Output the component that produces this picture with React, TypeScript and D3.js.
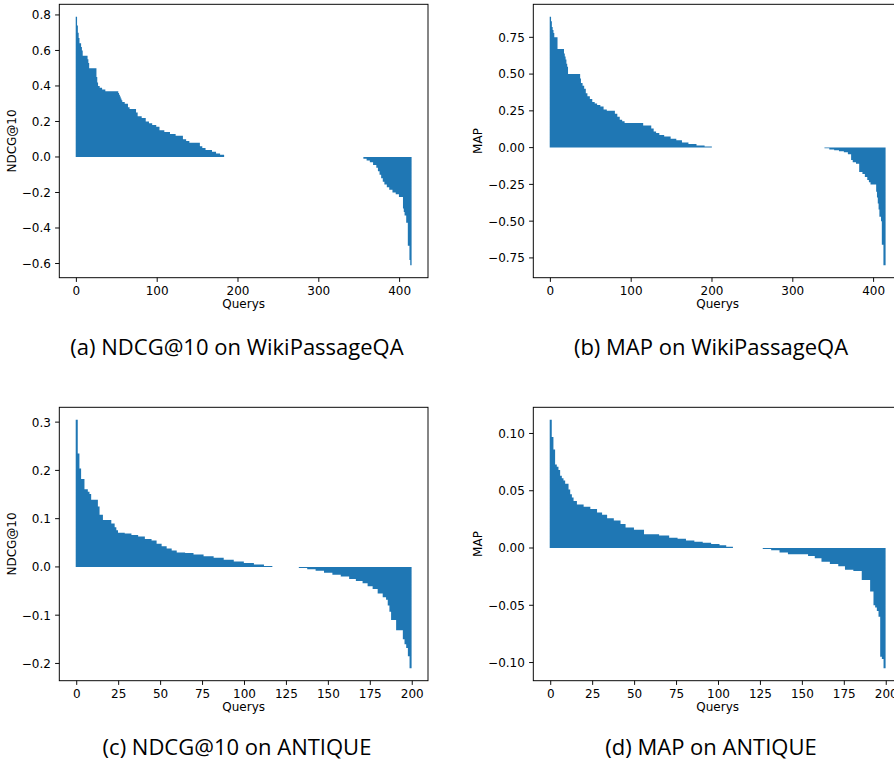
import React from 'react';
import * as d3 from 'd3';

type Run = [number, number]; // [value, number of consecutive queries with that value]

// (a) NDCG@10 on WikiPassageQA — sorted per-query differences
const ndcgWikiRuns: Run[] = [
  [0.79, 1], [0.74, 1], [0.70, 1], [0.67, 1], [0.64, 2], [0.62, 1], [0.60, 1], [0.57, 6], [0.55, 1], [0.53, 1],
  [0.50, 9], [0.45, 1], [0.42, 1], [0.40, 2], [0.39, 3], [0.38, 4], [0.37, 16], [0.36, 1], [0.35, 1], [0.34, 1],
  [0.33, 1], [0.32, 1], [0.31, 3], [0.30, 4], [0.28, 2], [0.27, 8], [0.25, 2], [0.23, 5], [0.22, 5], [0.20, 4],
  [0.19, 4], [0.18, 5], [0.17, 4], [0.15, 6], [0.14, 7], [0.13, 7], [0.12, 9], [0.10, 4], [0.09, 4], [0.08, 13],
  [0.06, 3], [0.05, 4], [0.04, 8], [0.03, 5], [0.02, 5], [0.013, 5],
  [0, 173],
  [-0.01, 4], [-0.02, 4], [-0.03, 4], [-0.045, 4], [-0.06, 2], [-0.08, 2], [-0.10, 2], [-0.12, 2], [-0.14, 2],
  [-0.155, 3], [-0.17, 3], [-0.185, 4], [-0.20, 4], [-0.21, 4], [-0.225, 5], [-0.29, 1], [-0.31, 1], [-0.33, 2],
  [-0.37, 2], [-0.50, 2], [-0.58, 1], [-0.61, 1],
];

// (b) MAP on WikiPassageQA
const mapWikiRuns: Run[] = [
  [0.89, 1], [0.86, 1], [0.82, 1], [0.80, 1], [0.78, 1], [0.75, 4], [0.67, 8], [0.64, 1], [0.62, 1], [0.60, 1],
  [0.57, 1], [0.55, 1], [0.50, 15], [0.47, 1], [0.44, 2], [0.42, 2], [0.40, 2], [0.37, 2], [0.35, 3], [0.33, 3],
  [0.31, 3], [0.30, 3], [0.29, 4], [0.28, 4], [0.26, 4], [0.25, 10], [0.23, 3], [0.21, 3], [0.19, 3], [0.18, 3],
  [0.167, 23], [0.15, 10], [0.13, 3], [0.11, 3], [0.10, 4], [0.085, 6], [0.075, 8], [0.06, 7], [0.05, 7],
  [0.035, 8], [0.025, 10], [0.015, 10], [0.007, 9],
  [0, 140],
  [-0.005, 6], [-0.012, 6], [-0.018, 6], [-0.024, 6], [-0.032, 5], [-0.045, 4], [-0.085, 2], [-0.10, 4],
  [-0.11, 4], [-0.165, 4], [-0.18, 3], [-0.20, 3], [-0.22, 2], [-0.235, 2], [-0.25, 7], [-0.30, 1], [-0.34, 1],
  [-0.38, 1], [-0.42, 1], [-0.47, 2], [-0.50, 1], [-0.66, 2], [-0.80, 2],
];

// (c) NDCG@10 on ANTIQUE
const ndcgAntiqueRuns: Run[] = [
  [0.305, 1], [0.235, 1], [0.204, 1], [0.182, 2], [0.161, 2], [0.156, 1], [0.151, 1], [0.139, 4], [0.125, 1],
  [0.108, 2], [0.097, 5], [0.09, 2], [0.082, 1], [0.076, 1], [0.071, 4], [0.069, 4], [0.066, 4], [0.063, 4],
  [0.058, 4], [0.055, 3], [0.048, 3], [0.043, 3], [0.038, 3], [0.034, 3], [0.030, 5], [0.029, 5], [0.026, 6],
  [0.022, 6], [0.019, 6], [0.015, 6], [0.011, 6], [0.008, 6], [0.005, 6], [0.002, 5],
  [0, 16],
  [-0.002, 5], [-0.005, 5], [-0.008, 5], [-0.012, 5], [-0.016, 5], [-0.020, 5], [-0.025, 4], [-0.029, 4],
  [-0.034, 3], [-0.040, 3], [-0.046, 3], [-0.055, 3], [-0.063, 2], [-0.068, 1], [-0.08, 1], [-0.093, 1],
  [-0.11, 3], [-0.131, 4], [-0.15, 1], [-0.16, 1], [-0.168, 1], [-0.185, 1], [-0.21, 1],
];

// (d) MAP on ANTIQUE
const mapAntiqueRuns: Run[] = [
  [0.112, 1], [0.097, 1], [0.086, 1], [0.073, 1], [0.071, 1], [0.068, 1], [0.063, 1], [0.061, 1], [0.059, 1],
  [0.056, 2], [0.051, 1], [0.047, 1], [0.044, 1], [0.041, 2], [0.038, 4], [0.036, 4], [0.034, 4], [0.031, 3],
  [0.029, 3], [0.026, 4], [0.024, 4], [0.021, 3], [0.018, 5], [0.016, 6], [0.012, 9], [0.011, 6], [0.009, 5],
  [0.008, 5], [0.0065, 5], [0.0055, 5], [0.0045, 5], [0.0035, 5], [0.0025, 4], [0.0012, 4],
  [0, 18],
  [-0.0008, 5], [-0.002, 5], [-0.004, 5], [-0.0055, 12], [-0.007, 4], [-0.009, 4], [-0.012, 5], [-0.014, 5],
  [-0.016, 4], [-0.019, 5], [-0.020, 5], [-0.028, 5], [-0.038, 2], [-0.050, 1], [-0.052, 1], [-0.055, 1],
  [-0.060, 1], [-0.095, 1], [-0.097, 1], [-0.105, 1],
];

const xTicksWiki = [0, 100, 200, 300, 400];
const xTicksAntique = [0, 25, 50, 75, 100, 125, 150, 175, 200];
const yTicksNdcgWiki = [-0.6, -0.4, -0.2, 0, 0.2, 0.4, 0.6, 0.8];
const yTicksMapWiki = [-0.75, -0.5, -0.25, 0, 0.25, 0.5, 0.75];
const yTicksNdcgAntique = [-0.2, -0.1, 0, 0.1, 0.2, 0.3];
const yTicksMapAntique = [-0.1, -0.05, 0, 0.05, 0.1];

const xAxisLabel = 'Querys';
const captionTexts = [
  '(a) NDCG@10 on WikiPassageQA',
  '(b) MAP on WikiPassageQA',
  '(c) NDCG@10 on ANTIQUE',
  '(d) MAP on ANTIQUE',
];

const BAR_COLOR = '#1f77b4';
const TICK_FONT = '"DejaVu Sans", sans-serif';
const CAPTION_FONT = '"Open Sans", sans-serif';

type PanelProps = {
  runs: Run[];
  left: number;
  top: number;
  width: number;
  height: number;
  xTicks: number[];
  yTicks: number[];
  yFormat: string;
  yLabel: string;
  yLabelX: number;
  caption: string;
  captionX: number;
  captionY: number;
};

function Panel(p: PanelProps) {
  const values: number[] = p.runs.flatMap(([v, c]) => Array.from({ length: c }, () => v));
  const n = values.length;
  const barW = 0.8;
  const xSpan = n - 1 + barW;
  const x = d3
    .scaleLinear()
    .domain([-barW / 2 - 0.05 * xSpan, n - 1 + barW / 2 + 0.05 * xSpan])
    .range([p.left, p.left + p.width]);
  const vmin = Math.min(0, d3.min(values) as number);
  const vmax = Math.max(0, d3.max(values) as number);
  const ySpan = vmax - vmin;
  const y = d3
    .scaleLinear()
    .domain([vmin - 0.05 * ySpan, vmax + 0.05 * ySpan])
    .range([p.top + p.height, p.top]);
  const fmt = d3.format(p.yFormat);
  const bottom = p.top + p.height;
  const tickLen = 4.2;

  // all bars in one path so that the rasterised union is solid (as in the raster reference)
  const pad = 0.35;
  const path = d3.path();
  values.forEach((v, i) => {
    if (v === 0) return;
    const x0 = x(i - barW / 2) - pad;
    const x1 = x(i + barW / 2) + pad;
    const yTop = y(Math.max(0, v));
    const h = Math.abs(y(v) - y(0));
    path.rect(x0, yTop, x1 - x0, h);
  });

  return (
    <g>
      <path d={path.toString()} fill={BAR_COLOR} />
      <rect x={p.left} y={p.top} width={p.width} height={p.height} fill="none" stroke="#000" strokeWidth={0.96} />
      {p.xTicks.map((t) => (
        <g key={'x' + t}>
          <line x1={x(t)} x2={x(t)} y1={bottom} y2={bottom + tickLen} stroke="#000" strokeWidth={0.96} />
          <text x={x(t)} y={bottom + 17} textAnchor="middle" fontFamily={TICK_FONT} fontSize={12} fill="#000">
            {t}
          </text>
        </g>
      ))}
      {p.yTicks.map((t) => (
        <g key={'y' + t}>
          <line x1={p.left - tickLen} x2={p.left} y1={y(t)} y2={y(t)} stroke="#000" strokeWidth={0.96} />
          <text x={p.left - 8.4} y={y(t) + 4.4} textAnchor="end" fontFamily={TICK_FONT} fontSize={12} fill="#000">
            {fmt(t)}
          </text>
        </g>
      ))}
      <text
        x={x((x.domain()[0] + x.domain()[1]) / 2)}
        y={bottom + 30.3}
        textAnchor="middle"
        fontFamily={TICK_FONT}
        fontSize={12}
        fill="#000"
      >
        {xAxisLabel}
      </text>
      <text
        transform={`translate(${p.yLabelX},${p.top + p.height / 2}) rotate(-90)`}
        textAnchor="middle"
        fontFamily={TICK_FONT}
        fontSize={12}
        fill="#000"
      >
        {p.yLabel}
      </text>
      <text x={p.captionX} y={p.captionY} textAnchor="middle" fontFamily={CAPTION_FONT} fontSize={22} fill="#000">
        {p.caption}
      </text>
    </g>
  );
}

export default function App() {
  const W = 894;
  const H = 765;
  const axW = 368.7;
  const axH = 273.4;
  const leftL = 59.3;
  const leftR = 533.3;
  const topT = 4.3;
  const topB = 407.3;
  return (
    <div style={{ position: 'absolute', left: 0, top: 0 }}>
      <svg width={W} height={H} viewBox={`0 0 ${W} ${H}`} style={{ display: 'block', background: '#fff' }}>
        <rect x={0} y={0} width={W} height={H} fill="#fff" />
        <Panel
          runs={ndcgWikiRuns}
          left={leftL}
          top={topT}
          width={axW}
          height={axH}
          xTicks={xTicksWiki}
          yTicks={yTicksNdcgWiki}
          yFormat=".1f"
          yLabel="NDCG@10"
          yLabelX={leftL - 43.3}
          caption={captionTexts[0]}
          captionX={237}
          captionY={354.5}
        />
        <Panel
          runs={mapWikiRuns}
          left={leftR}
          top={topT}
          width={axW}
          height={axH}
          xTicks={xTicksWiki}
          yTicks={yTicksMapWiki}
          yFormat=".2f"
          yLabel="MAP"
          yLabelX={leftR - 51.3}
          caption={captionTexts[1]}
          captionX={711}
          captionY={354.5}
        />
        <Panel
          runs={ndcgAntiqueRuns}
          left={leftL}
          top={topB}
          width={axW}
          height={axH}
          xTicks={xTicksAntique}
          yTicks={yTicksNdcgAntique}
          yFormat=".1f"
          yLabel="NDCG@10"
          yLabelX={leftL - 43.3}
          caption={captionTexts[2]}
          captionX={237}
          captionY={755}
        />
        <Panel
          runs={mapAntiqueRuns}
          left={leftR}
          top={topB}
          width={axW}
          height={axH}
          xTicks={xTicksAntique}
          yTicks={yTicksMapAntique}
          yFormat=".2f"
          yLabel="MAP"
          yLabelX={leftR - 51.3}
          caption={captionTexts[3]}
          captionX={711}
          captionY={755}
        />
      </svg>
    </div>
  );
}
